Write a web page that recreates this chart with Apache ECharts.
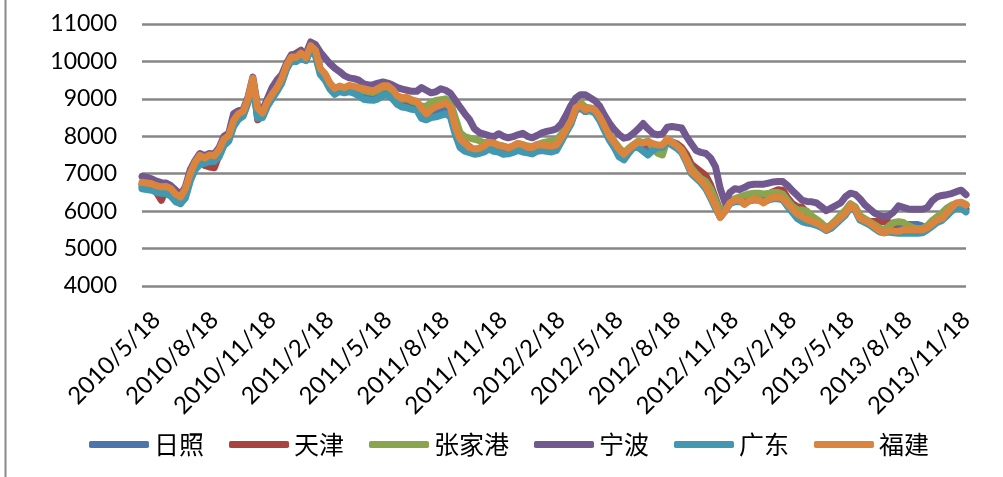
<!DOCTYPE html>
<html>
<head>
<meta charset="utf-8">
<script src="https://cdn.jsdelivr.net/npm/echarts@6/dist/echarts.min.js"></script>
<style>html,body{margin:0;padding:0;background:#fff}#c{width:1003px;height:477px}</style>
</head>
<body>
<div id="c"></div>
<script>
// Category dates (roughly weekly: 3rd, 10th, 18th, 25th of each month)
const categories = ['2010/4/25'];
(function(){
  let y = 2010, m = 5;
  while (!(y === 2013 && m === 11)) {
    [3, 10, 18, 25].forEach(d => categories.push(y + '/' + m + '/' + d));
    m++; if (m > 12) { m = 1; y++; }
  }
  ['2013/11/3', '2013/11/10', '2013/11/18'].forEach(d => categories.push(d));
})();

const tickLabels = ['2010/5/18','2010/8/18','2010/11/18','2011/2/18','2011/5/18','2011/8/18','2011/11/18',
  '2012/2/18','2012/5/18','2012/8/18','2012/11/18','2013/2/18','2013/5/18','2013/8/18','2013/11/18'];

const seriesNames = ['日照', '天津', '张家港', '宁波', '广东', '福建'];

const riZhao = [
6650,6620,6600,6560,6540,6520,6450,6300,6200,6400,6850,7150,
7300,7300,7350,7360,7500,7800,7900,8300,8500,8580,8920,9420,
8550,8520,8820,9020,9230,9450,9820,10050,10030,10120,10040,10330,
10200,9700,9550,9300,9160,9240,9200,9250,9200,9150,9080,9050,
9050,9100,9180,9180,9080,8920,8850,8850,8800,8780,8550,8480,
8560,8600,8650,8700,8620,8120,7780,7680,7620,7580,7600,7640,
7720,7680,7640,7600,7600,7640,7700,7660,7620,7600,7670,7680,
7660,7650,7680,7880,8120,8350,8720,8800,8680,8700,8650,8460,
8200,7950,7760,7550,7440,7600,7720,7760,7700,7650,7700,7730,
7730,7880,7790,7720,7600,7330,7030,6900,6780,6630,6380,6110,
5840,6010,6210,6270,6280,6220,6280,6310,6300,6250,6300,6350,
6350,6320,6150,6000,5860,5790,5740,5700,5650,5580,5500,5570,
5690,5800,5920,6120,6040,5790,5730,5660,5570,5470,5430,5470,
5480,5560,5620,5640,5640,5640,5600,5540,5620,5730,5780,5900,
6040,6150,6150,6050];

const tianJin = [
6720,6700,6650,6500,6290,6580,6550,6400,6320,6520,6920,7200,
7350,7220,7180,7160,7500,7850,7950,8380,8560,8640,8980,9500,
8440,8560,8880,9100,9300,9520,9880,10100,10220,10300,10080,10400,
10280,9790,9650,9400,9260,9320,9280,9340,9310,9280,9240,9200,
9180,9250,9320,9320,9220,9050,8980,8990,8920,8880,8720,8620,
8740,8800,8850,8880,8800,8280,7950,7820,7720,7620,7600,7700,
7780,7780,7740,7700,7620,7700,7760,7740,7650,7640,7720,7740,
7730,7720,7740,7920,8150,8380,8700,8750,8660,8720,8680,8500,
8250,8000,7820,7620,7500,7620,7740,7820,7800,7820,7780,7740,
7740,7880,7850,7800,7700,7520,7250,7150,7050,6950,6700,6350,
6000,6050,6240,6300,6320,6300,6360,6420,6440,6420,6460,6520,
6570,6560,6350,6200,6120,6100,5960,5820,5720,5640,5540,5620,
5740,5860,5980,6180,6100,5860,5780,5720,5720,5720,5720,5700,
5520,5480,5500,5500,5500,5500,5510,5580,5700,5800,5860,6000,
6120,6200,6220,6150];

const zhangJiaGang = [
6700,6680,6650,6600,6580,6580,6520,6380,6300,6500,6900,7200,
7400,7380,7420,7420,7580,7860,7960,8380,8550,8620,8950,9480,
8650,8580,8880,9080,9260,9500,9850,10080,10080,10180,10070,10380,
10250,9750,9620,9380,9240,9300,9260,9320,9290,9250,9220,9190,
9170,9240,9310,9310,9220,9050,8990,9000,8940,8900,8800,8800,
8900,8960,8980,9000,8920,8500,8100,7990,7950,7920,7880,7820,
7860,7800,7760,7740,7700,7740,7800,7780,7740,7720,7780,7820,
7850,7880,7900,8050,8250,8480,8820,8900,8780,8760,8720,8540,
8300,8050,7870,7700,7560,7680,7780,7870,7830,7870,7700,7550,
7500,7900,7850,7760,7640,7400,7150,7000,6870,6790,6600,6300,
5950,6100,6260,6330,6380,6420,6460,6480,6480,6460,6470,6500,
6500,6450,6280,6130,6040,6030,6000,5870,5780,5680,5560,5640,
5760,5900,6030,6200,6120,5880,5800,5720,5640,5560,5500,5600,
5700,5720,5700,5620,5560,5530,5540,5620,5750,5850,5950,6080,
6160,6200,6240,6180];

const ningBo = [
6930,6900,6860,6800,6760,6750,6680,6560,6450,6650,7100,7350,
7540,7480,7540,7530,7700,8000,8080,8600,8680,8720,9050,9580,
8800,8700,9000,9300,9500,9650,9950,10180,10200,10270,10200,10520,
10450,10250,10090,9940,9820,9730,9620,9560,9540,9500,9400,9370,
9380,9420,9450,9420,9370,9300,9260,9230,9200,9200,9300,9230,
9160,9190,9270,9230,9150,8970,8780,8600,8440,8200,8100,8060,
8020,7990,8070,8000,7960,7990,8040,8080,8000,7960,8020,8090,
8130,8160,8200,8330,8560,8820,9020,9110,9110,9030,8950,8800,
8560,8350,8180,8050,7950,7980,8080,8200,8340,8200,8080,8040,
8060,8240,8260,8240,8220,7990,7800,7620,7570,7540,7420,7190,
6600,6230,6500,6600,6580,6630,6700,6720,6720,6720,6750,6780,
6790,6790,6680,6540,6420,6290,6260,6250,6220,6120,6010,6080,
6150,6220,6390,6480,6450,6330,6170,6060,5950,5890,5850,5880,
5980,6140,6100,6060,6050,6050,6050,6100,6280,6380,6420,6440,
6470,6520,6560,6440];

const guangDong = [
6600,6580,6560,6500,6480,6470,6400,6250,6210,6350,6800,7100,
7250,7280,7320,7330,7450,7750,7870,8260,8450,8540,8900,9400,
8480,8500,8800,9000,9200,9420,9800,10020,10000,10080,10020,10300,
10150,9650,9500,9260,9120,9200,9160,9200,9150,9080,8990,8970,
8960,9000,9100,9100,9000,8850,8780,8760,8720,8700,8480,8440,
8500,8520,8560,8600,8520,8050,7700,7600,7560,7520,7540,7580,
7660,7600,7580,7520,7530,7570,7620,7580,7560,7530,7600,7620,
7600,7580,7620,7850,8100,8320,8700,8780,8660,8680,8620,8420,
8150,7900,7700,7450,7370,7550,7700,7700,7600,7500,7620,7700,
7700,7860,7760,7680,7560,7300,7000,6880,6760,6600,6350,6080,
5850,6020,6200,6250,6260,6200,6270,6300,6300,6260,6300,6330,
6330,6300,6120,5960,5800,5720,5680,5660,5620,5560,5480,5540,
5660,5780,5900,6100,6020,5760,5700,5630,5540,5450,5420,5440,
5420,5410,5410,5410,5410,5410,5420,5500,5600,5700,5750,5870,
6000,6100,6080,5980];

const fuJian = [
6770,6750,6730,6680,6650,6660,6600,6450,6380,6600,7000,7300,
7490,7420,7500,7480,7640,7920,8020,8420,8600,8670,9000,9550,
8750,8620,8920,9120,9300,9540,9890,10120,10110,10220,10100,10420,
10300,9810,9670,9420,9280,9340,9300,9360,9330,9300,9270,9240,
9210,9280,9350,9350,9250,9080,9030,9040,8970,8940,8750,8600,
8720,8790,8840,8880,8780,8250,7930,7810,7700,7660,7680,7740,
7840,7820,7760,7730,7690,7740,7810,7770,7710,7700,7770,7770,
7750,7740,7770,7950,8180,8400,8760,8830,8710,8750,8700,8520,
8270,8010,7830,7650,7520,7650,7760,7850,7820,7860,7800,7770,
7770,7930,7830,7750,7620,7350,7060,6940,6810,6660,6400,6150,
5830,6000,6220,6300,6300,6180,6280,6320,6300,6220,6310,6370,
6380,6340,6180,6050,5920,5850,5780,5730,5680,5610,5510,5600,
5710,5830,5950,6150,6060,5810,5750,5680,5590,5480,5420,5490,
5470,5460,5500,5500,5500,5500,5500,5560,5660,5770,5800,5950,
6090,6220,6230,6160];

const seriesData = [riZhao, tianJin, zhangJiaGang, ningBo, guangDong, fuJian];
const colors = ['#4a76ac', '#a9433f', '#8ba54e', '#71588f', '#4198b0', '#db843d'];

const chart = echarts.init(document.getElementById('c'), null, {renderer: 'canvas'});
chart.setOption({
  animation: false,
  backgroundColor: '#ffffff',
  color: colors,
  grid: {left: 142, right: 37, top: 24, bottom: 191, containLabel: false},
  graphic: [{
    type: 'line', shape: {x1: 5.5, y1: 0, x2: 5.5, y2: 477},
    style: {stroke: '#8a8a8a', lineWidth: 2}
  }],
  legend: {
    data: seriesNames.map(n => ({name: n, icon: 'roundRect'})),
    left: 84, top: 427,
    itemWidth: 60, itemHeight: 7, itemGap: 25,
    textStyle: {fontFamily: 'Noto Sans CJK SC', fontSize: 25, color: '#000'}
  },
  xAxis: {
    type: 'category',
    data: categories,
    boundaryGap: false,
    axisLine: {show: false},
    axisTick: {show: false},
    splitLine: {show: false},
    axisLabel: {
      interval: (idx, val) => tickLabels.indexOf(val) >= 0,
      rotate: 45, margin: 30,
      fontFamily: 'Lato', fontSize: 24, color: '#000'
    }
  },
  yAxis: {
    type: 'value', min: 4000, max: 11000, interval: 1000,
    axisLine: {show: false}, axisTick: {show: false},
    axisLabel: {fontFamily: 'Lato', fontSize: 23, color: '#000', margin: 25,
      formatter: v => String(v)},
    splitLine: {lineStyle: {color: '#868686', width: 2.5}}
  },
  series: seriesNames.map((n, i) => ({
    name: n, type: 'line', data: seriesData[i],
    showSymbol: false, symbol: 'none',
    lineStyle: {width: 7, color: colors[i], cap: 'round', join: 'round'},
    itemStyle: {color: colors[i]}
  }))
});
</script>
</body>
</html>
